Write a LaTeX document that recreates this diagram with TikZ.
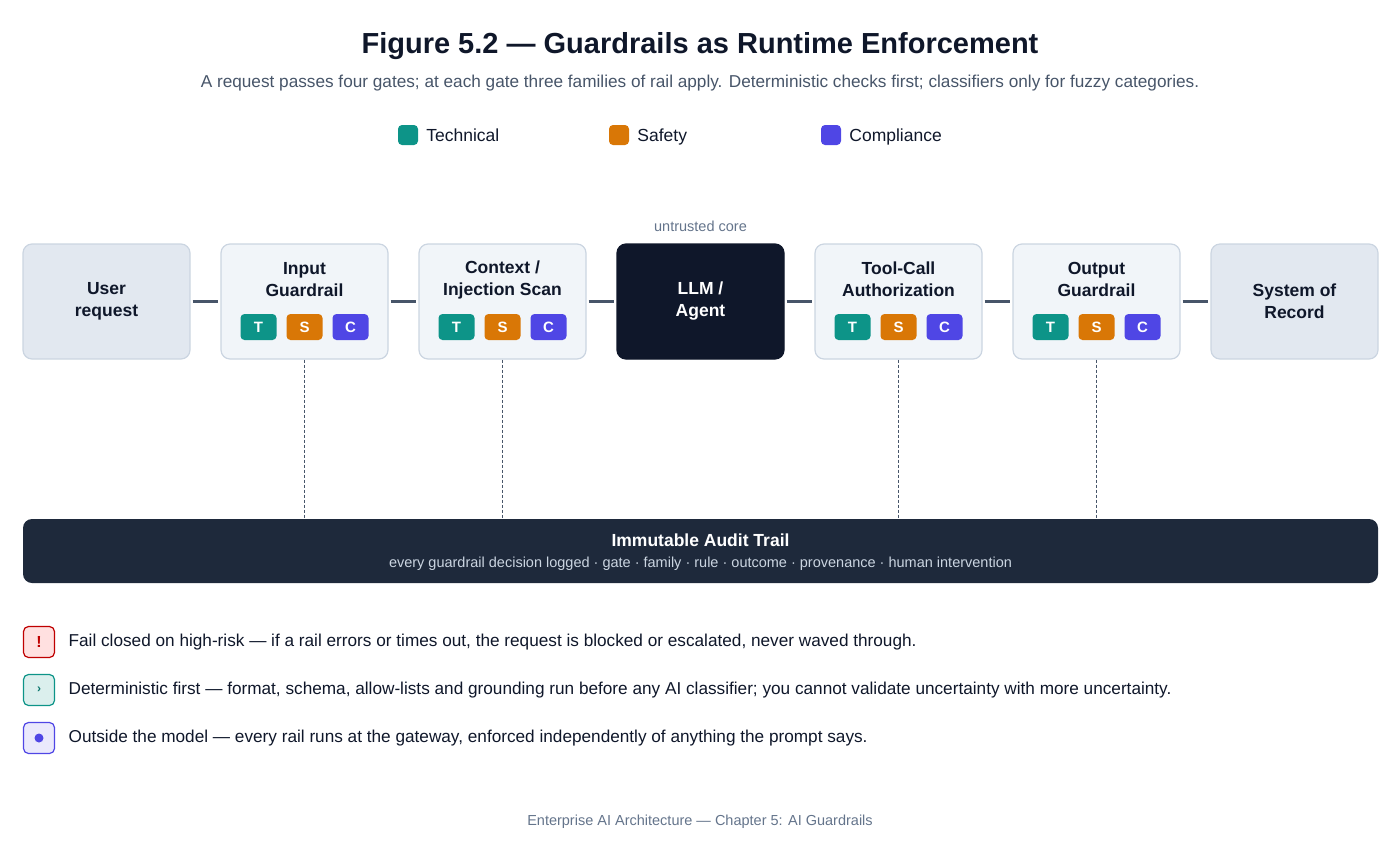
\documentclass[tikz,border=0pt]{standalone}
\usepackage{fontspec}
\setmainfont{Liberation Sans}
\usetikzlibrary{positioning}
\definecolor{ink}{HTML}{0F172A}
\definecolor{slate}{HTML}{475569}
\definecolor{muted}{HTML}{64748B}
\definecolor{tcol}{HTML}{0D9488}
\definecolor{scol}{HTML}{D97706}
\definecolor{ccol}{HTML}{4F46E5}
\definecolor{gatefill}{HTML}{F1F5F9}
\definecolor{endfill}{HTML}{E2E8F0}
\definecolor{edge}{HTML}{CBD5E1}
\definecolor{audit}{HTML}{1E293B}
\tikzset{>=latex}

\begin{document}
\begin{tikzpicture}[x=1pt,y=-1pt,
                    box/.style = {draw=edge, line width=1.2pt, rounded corners=9pt,
                              minimum width=167pt, minimum height=115pt,
                              inner sep=0pt, align=center},
                    gate/.style = {box, fill=gatefill},
                    ends/.style = {box, fill=endfill, font=\fontsize{17.5}{22}\selectfont\bfseries, text=ink},
                    badge/.style = {rounded corners=4pt, minimum width=36pt, minimum height=26pt,
                              inner sep=0pt, text=white, font=\fontsize{15}{15}\selectfont\bfseries, fill=#1},
                    key/.style = {rounded corners=4pt, minimum size=20pt, inner sep=0pt, fill=#1},
                    keytext/.style = {anchor=base west, inner sep=0pt, font=\fontsize{17.5}{20}\selectfont, text=ink},
                    link/.style = {draw=slate, line width=2.2pt},
                    tap/.style = {draw=slate, line width=1.5pt, dash pattern=on 3pt off 2pt},
                    note/.style = {rounded corners=5pt, minimum size=31pt, inner sep=0pt, line width=1.2pt},
                    notetext/.style = {font=\fontsize{17.2}{20}\selectfont, text=ink},
                    gtitle/.style = {font=\fontsize{17.5}{22}\selectfont\bfseries, text=ink, align=center}
               ]
               \useasboundingbox (0,0) rectangle (1400,844);
               % heading
               \node[font=\fontsize{29}{33}\selectfont\bfseries, text=ink] (title) at (700,46) {Figure 5.2 — Guardrails as Runtime Enforcement};
               \node[font=\fontsize{17.2}{20}\selectfont, text=slate] (sub) at (700,83) {A request passes four gates; at each gate three families of rail apply. Deterministic checks first; classifiers only for fuzzy categories.};
               % legend
               \node[key=tcol] (kt) at (408,135) {};
               \node[key=scol] (ks) at (619,135) {};
               \node[key=ccol] (kc) at (831,135) {};
               \node[keytext] at ([xshift=8pt,yshift=-6pt]kt.east) {Technical};
               \node[keytext] at ([xshift=8pt,yshift=-6pt]ks.east) {Safety};
               \node[keytext] at ([xshift=8pt,yshift=-6pt]kc.east) {Compliance};

               % pipeline
               \node[ends] (user) at (106.5,301.5) {User\\request};
               \node[gate] (input) at (304.5,301.5) {};
               \node[gate] (ctx) at (502.5,301.5) {};
               \node[box, fill=ink, draw=ink, text=white, font=\fontsize{17.5}{22}\selectfont\bfseries] (llm) at (700.5,301.5) {LLM /\\Agent};
               \node[gate] (tool) at (898.5,301.5) {};
               \node[gate] (output) at (1096.5,301.5) {};
               \node[ends] (sor) at (1294.5,301.5) {System of\\Record};
               \node[above=8pt of llm, font=\fontsize{14.5}{16}\selectfont, text=muted] {untrusted core};

               \foreach \g/\t in {input/{Input\\Guardrail}, ctx/{Context /\\Injection Scan},
                                  tool/{Tool-Call\\Authorization}, output/{Output\\Guardrail}} {
                 \node[gtitle] at ([yshift=22pt]\g.center) {\t};
                 \node[badge=tcol] at ([xshift=-46pt,yshift=-25.5pt]\g.center) {T};
                 \node[badge=scol] at ([yshift=-25.5pt]\g.center) {S};
                 \node[badge=ccol] at ([xshift=46pt,yshift=-25.5pt]\g.center) {C};
               }

               \foreach \a/\b in {user/input, input/ctx, ctx/llm, llm/tool, tool/output, output/sor}
                 \draw[link] ([xshift=2pt]\a.east) -- ([xshift=-2pt]\b.west);

               % audit trail
               \node[fill=audit, rounded corners=9pt, minimum width=1355pt, minimum height=64pt,
                     inner sep=0pt] (trail) at (700.5,551) {};
               \node[font=\fontsize{17.5}{20}\selectfont\bfseries, text=white] at (700.5,540) {Immutable Audit Trail};
               \node[font=\fontsize{14.5}{16}\selectfont, text=edge] at (700.5,564) {every guardrail decision logged · gate · family · rule · outcome · provenance · human intervention};
               \foreach \g in {input, ctx, tool, output}
                 \draw[tap] (\g.south) -- (\g.south |- trail.north);

               % principles
               \node[note, draw=red!75!black, fill=red!12, text=red!75!black, font=\fontsize{16}{16}\selectfont\bfseries] (n1) at (39,642) {!};
               \node[note, draw=tcol, fill=tcol!15, text=tcol!80!black, font=\fontsize{12}{12}\selectfont\bfseries] (n2) at (39,690) {›};
               \node[note, draw=ccol, fill=ccol!12] (n3) at (39,738) {};
               \fill[ccol] (n3.center) circle (4.5pt);
               \node[right=10pt of n1, notetext] {Fail closed on high-risk — if a rail errors or times out, the request is blocked or escalated, never waved through.};
               \node[right=10pt of n2, notetext] {Deterministic first — format, schema, allow-lists and grounding run before any AI classifier; you cannot validate uncertainty with more uncertainty.};
               \node[right=10pt of n3, notetext] {Outside the model — every rail runs at the gateway, enforced independently of anything the prompt says.};

               \node[font=\fontsize{14.5}{16}\selectfont, text=muted] (foot) at (700,822) {Enterprise AI Architecture — Chapter 5: AI Guardrails};
          \end{tikzpicture}
\end{document}
